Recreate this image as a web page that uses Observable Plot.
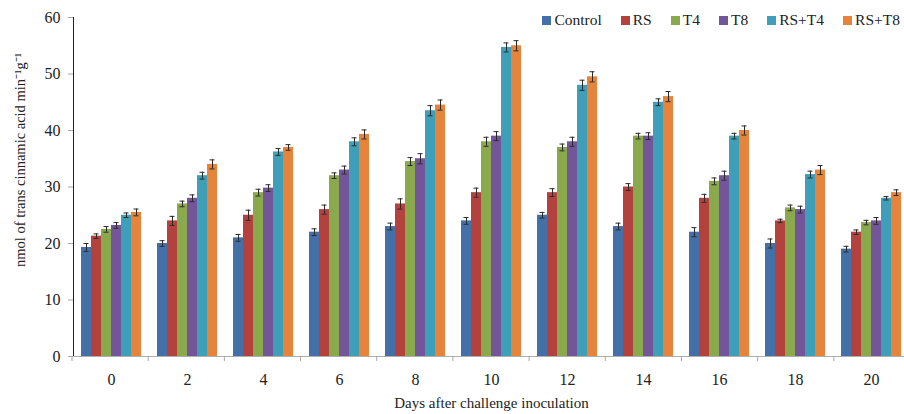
<!DOCTYPE html>
<html>
<head>
<meta charset="utf-8">
<script src="https://cdn.jsdelivr.net/npm/d3@7"></script>
<script src="https://cdn.jsdelivr.net/npm/@observablehq/plot@0.6"></script>
<style>
  html, body { margin: 0; padding: 0; background: #fff; overflow: hidden; }
  #wrap { position: relative; width: 904px; height: 414px; overflow: hidden; }
  #wrap svg { max-width: none !important; }
  #legend { position: absolute; right: 4px; top: 11px; display: flex; gap: 19px;
            font-family: "Liberation Serif", serif; font-size: 15.5px; color: #222; line-height: 18px; }
  #legend .item { display: flex; align-items: center; }
  #legend .sw { width: 9px; height: 9px; margin-right: 3px; }
</style>
</head>
<body>
<div id="wrap"><div id="legend"></div></div>
<script>
const days = [0, 2, 4, 6, 8, 10, 12, 14, 16, 18, 20];
const series = ["Control", "RS", "T4", "T8", "RS+T4", "RS+T8"];
const colors = ["#4470a8", "#b3423f", "#8aa84c", "#73569a", "#3f9eb8", "#e5843a"];
const yTicks = [0, 10, 20, 30, 40, 50, 60];
const yLabel = "nmol of trans cinnamic acid min\u207B\u00B9g\u207B\u00B9";
const xLabel = "Days after challenge inoculation";

const control = [19.3, 20.0, 21.0, 22.0, 23.0, 24.0, 25.0, 23.0, 22.0, 20.0, 19.0];
const rs      = [21.3, 24.0, 25.0, 26.0, 27.0, 29.0, 29.0, 30.0, 28.0, 24.0, 22.0];
const t4      = [22.5, 27.0, 29.0, 32.0, 34.5, 38.0, 37.0, 39.0, 31.0, 26.3, 23.7];
const t8      = [23.2, 28.0, 29.8, 33.0, 35.0, 39.0, 38.0, 39.0, 32.0, 26.0, 24.0];
const rsT4    = [25.0, 32.0, 36.2, 38.0, 43.5, 54.7, 48.0, 45.0, 39.0, 32.2, 28.0];
const rsT8    = [25.5, 34.0, 37.0, 39.3, 44.5, 55.0, 49.5, 46.0, 40.0, 33.0, 29.0];

const errControl = [0.7, 0.5, 0.6, 0.6, 0.6, 0.6, 0.5, 0.6, 0.8, 0.8, 0.5];
const errRs      = [0.4, 0.8, 0.9, 0.8, 0.9, 0.8, 0.7, 0.6, 0.7, 0.3, 0.4];
const errT4      = [0.5, 0.5, 0.6, 0.5, 0.7, 0.8, 0.6, 0.5, 0.6, 0.5, 0.4];
const errT8      = [0.5, 0.6, 0.6, 0.7, 0.9, 0.8, 0.8, 0.6, 0.8, 0.6, 0.6];
const errRsT4    = [0.4, 0.6, 0.6, 0.7, 0.9, 0.8, 0.9, 0.6, 0.5, 0.6, 0.3];
const errRsT8    = [0.6, 0.8, 0.5, 0.8, 0.9, 0.9, 0.9, 0.9, 0.8, 0.8, 0.5];

const valueArrays = [control, rs, t4, t8, rsT4, rsT8];
const errArrays = [errControl, errRs, errT4, errT8, errRsT4, errRsT8];

const data = [];
days.forEach((day, i) => {
  series.forEach((s, j) => {
    data.push({day, series: s, value: valueArrays[j][i], err: errArrays[j][i]});
  });
});

const chart = Plot.plot({
  width: 910,
  height: 414,
  marginLeft: 72,
  marginRight: 0,
  marginTop: 17,
  marginBottom: 58,
  style: {fontFamily: "'Liberation Serif', serif", fontSize: "16px", color: "#222", background: "transparent", overflow: "visible", maxWidth: "none"},
  fx: {domain: days, padding: 0, label: xLabel, labelAnchor: "center", labelArrow: "none",
       labelOffset: 52, tickSize: 0, tickPadding: 17, line: false},
  x: {domain: series, paddingInner: 0, paddingOuter: 0.75, axis: null},
  y: {domain: [0, 60], ticks: yTicks, label: yLabel, labelArrow: "none",
      labelAnchor: "center", labelOffset: 60, tickSize: 5, tickPadding: 8, line: true},
  color: {domain: series, range: colors},
  marks: [
    Plot.barY(data, {fx: "day", x: "series", y: "value", fill: "series"}),
    Plot.ruleX(data, {fx: "day", x: "series", y1: d => d.value - d.err, y2: d => d.value + d.err, stroke: "#2a2a2a", strokeWidth: 1}),
    Plot.tickY(data, {fx: "day", x: "series", y: d => d.value - d.err, stroke: "#2a2a2a", insetLeft: 2.5, insetRight: 2.5}),
    Plot.tickY(data, {fx: "day", x: "series", y: d => d.value + d.err, stroke: "#2a2a2a", insetLeft: 2.5, insetRight: 2.5}),
    Plot.ruleY([0], {stroke: "#b0b0b0"})
  ]
});
chart.style.maxWidth = "none";

const svg = d3.select(chart);
svg.selectAll("[aria-label^='y-axis'] line, [aria-label^='y-axis'] path").attr("stroke", "#a8a8a8");

// boundary tick marks on the x axis, derived from Plot's fx scale
const fx = chart.scale("fx");
const step = (fx.range[1] - fx.range[0]) / fx.domain.length;
const y0 = chart.scale("y").range[0];
const bounds = d3.range(fx.domain.length + 1).map(i => fx.range[0] + i * step);
svg.append("g").attr("aria-label", "fx-boundary-ticks")
  .selectAll("line").data(bounds).join("line")
  .attr("x1", d => d).attr("x2", d => d)
  .attr("y1", y0).attr("y2", y0 + 5)
  .attr("stroke", "#a8a8a8");

document.getElementById("wrap").prepend(chart);

// axis label fine-tuning (remove arrows, font size, position)
function placeLabel(match, size, cx, cy) {
  svg.selectAll("text").each(function() {
    const t = this;
    if (!t.textContent.includes(match)) return;
    const tspan = t.querySelector("tspan");
    const target = tspan || t;
    target.textContent = target.textContent.replace(/[\u2190-\u2193]/g, "").trim();
    t.style.fontSize = size;
    const r = t.getBoundingClientRect();
    const dx = cx == null ? 0 : cx - (r.left + r.width / 2);
    const dy = cy == null ? 0 : cy - (r.top + r.height / 2);
    const tr = t.getAttribute("transform") || "";
    t.setAttribute("transform", `translate(${dx},${dy}) ${tr}`);
  });
}
placeLabel("nmol", "14.5px", 20, 160);
placeLabel("Days", "15px", null, 403);

// legend
const legend = d3.select("#legend");
series.forEach((s, j) => {
  const it = legend.append("div").attr("class", "item");
  it.append("div").attr("class", "sw").style("background", colors[j]);
  it.append("span").text(s);
});
</script>
</body>
</html>
